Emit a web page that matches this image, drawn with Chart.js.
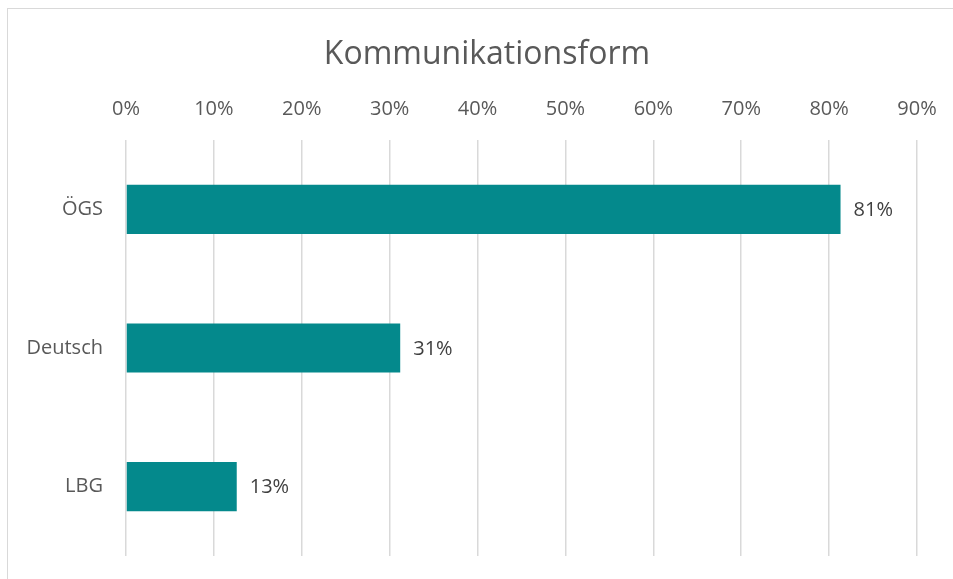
<!DOCTYPE html>
<html>
<head>
<meta charset="utf-8">
<script src="https://cdn.jsdelivr.net/npm/chart.js@4/dist/chart.umd.min.js"></script>
<style>
  html,body{margin:0;padding:0;background:#fff;overflow:hidden}
  #frame{position:absolute;left:7px;top:8px;width:1200px;height:900px;border:1px solid #d9d9d9}
  #c{position:absolute;left:0;top:0}
</style>
</head>
<body>
<div id="frame"></div>
<canvas id="c" width="953" height="579"></canvas>
<script>
const categories = ['ÖGS', 'Deutsch', 'LBG'];
const values = [81.3, 31.2, 12.6];
const valueLabels = ['81%', '31%', '13%'];
const xTicks = [0, 10, 20, 30, 40, 50, 60, 70, 80, 90];
const chartTitle = 'Kommunikationsform';

const FONT = "'Open Sans', sans-serif";

// title centred on the (wider) chart frame, and labels at the end of each bar
const extras = {
  id: 'extras',
  afterDraw(chart) {
    const ctx = chart.ctx;
    ctx.save();
    ctx.font = `32px ${FONT}`;
    ctx.fillStyle = '#595959';
    ctx.textAlign = 'center';
    ctx.textBaseline = 'alphabetic';
    ctx.fillText(chartTitle, 487, 64);
    ctx.restore();
  },
  afterDatasetsDraw(chart) {
    const ctx = chart.ctx;
    const meta = chart.getDatasetMeta(0);
    ctx.save();
    ctx.font = `20px ${FONT}`;
    ctx.fillStyle = '#404040';
    ctx.textAlign = 'left';
    ctx.textBaseline = 'middle';
    meta.data.forEach((bar, i) => {
      ctx.fillText(valueLabels[i], bar.x + 13, bar.y + 1);
    });
    ctx.restore();
  }
};

new Chart(document.getElementById('c'), {
  type: 'bar',
  data: {
    labels: categories,
    datasets: [{
      data: values,
      backgroundColor: '#04898C',
      categoryPercentage: 1,
      barPercentage: 0.355
    }]
  },
  options: {
    indexAxis: 'y',
    responsive: false,
    animation: false,
    layout: { padding: { left: 0, right: 36, top: 78, bottom: 23 } },
    plugins: {
      legend: { display: false },
      tooltip: { enabled: false },
      title: { display: false }
    },
    scales: {
      x: {
        position: 'top',
        min: 0,
        max: 90,
        afterBuildTicks: s => { s.ticks = xTicks.map(v => ({ value: v })); },
        afterFit: s => { s.paddingLeft = 0; s.paddingRight = 0; },
        ticks: {
          callback: v => v + '%',
          color: '#595959',
          font: { family: FONT, size: 20 },
          padding: 19,
          maxRotation: 0
        },
        grid: { color: '#d9d9d9', lineWidth: 1.5, drawTicks: false },
        border: { display: false }
      },
      y: {
        afterFit: s => { s.width = 126; s.paddingTop = 0; s.paddingBottom = 0; },
        ticks: {
          color: '#595959',
          font: { family: FONT, size: 20 },
          padding: 23
        },
        grid: { display: false, drawTicks: false },
        border: { display: false }
      }
    }
  },
  plugins: [extras]
});
</script>
</body>
</html>
